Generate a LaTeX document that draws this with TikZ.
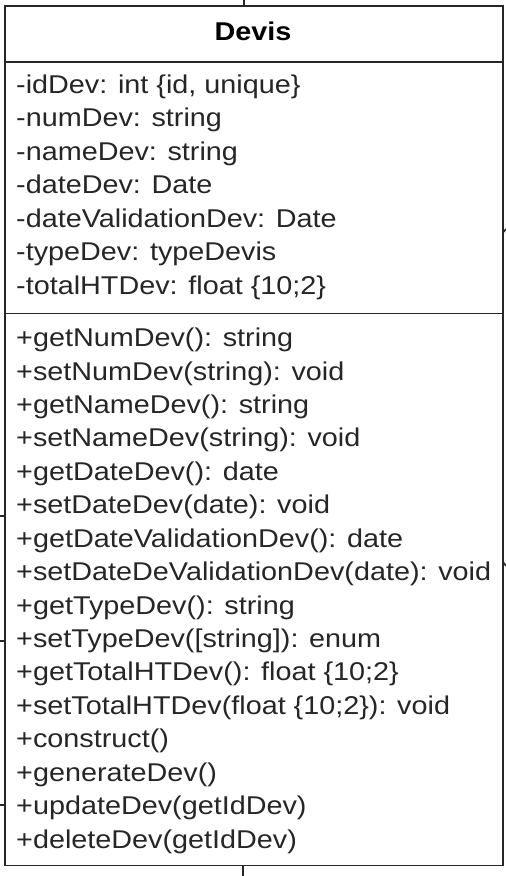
\documentclass[tikz,border=0pt]{standalone}
\usepackage{fontspec}
\setmainfont[FakeStretch=1.12]{Liberation Sans}
\begin{document}
\begin{tikzpicture}[x=1bp,y=-1bp,
  umlbox/.style={draw=black!85, line width=1.8bp, fill=white, inner sep=0pt, anchor=north west},
  member/.style={anchor=base west, inner sep=0pt, text=black!85, font=\fontsize{25.7bp}{30bp}\selectfont},
  title/.style={anchor=base, inner sep=0pt, text=black, font=\fontsize{25.7bp}{30bp}\selectfont\bfseries},
  conn/.style={draw=black!85, line width=1.6bp}]
\useasboundingbox (0,0) rectangle (506,876);
% connector stubs
\coordinate (ts1) at (244,0);   \coordinate (ts2) at (244,6);
\coordinate (bs1) at (243,863); \coordinate (bs2) at (243,876);
\coordinate (l1a) at (0,516);   \coordinate (l1b) at (5,516);
\coordinate (l2a) at (0,641);   \coordinate (l2b) at (5,641);
\coordinate (l3a) at (0,805);   \coordinate (l3b) at (5,805);
\coordinate (r1a) at (506,229); \coordinate (r1b) at (501,235);
\coordinate (r2a) at (506,566); \coordinate (r2b) at (501,559);
\draw[conn] (ts1) -- (ts2);
\draw[conn] (bs1) -- (bs2);
\draw[conn] (l1a) -- (l1b);
\draw[conn] (l2a) -- (l2b);
\draw[conn] (l3a) -- (l3b);
\draw[conn] (r1a) -- (r1b);
\draw[conn] (r2a) -- (r2b);
% class compartments
\node[umlbox, minimum width=498bp, minimum height=56bp] (head) at (4,5) {};
\node[umlbox, minimum width=498bp, minimum height=251.5bp] (attrs) at (4,61) {};
\node[umlbox, minimum width=498bp, minimum height=552bp] (meths) at (4,312.5) {};
\node[title] (name) at (253,40) {Devis};
% attributes
\foreach \t [count=\i] in {
  {-idDev: int \{id, unique\}},
  {-numDev: string},
  {-nameDev: string},
  {-dateDev: Date},
  {-dateValidationDev: Date},
  {-typeDev: typeDevis},
  {-totalHTDev: float \{10;2\}}}
  \node[member] (a\i) at (16,{93.3+(\i-1)*33.5}) {\t};
% methods
\foreach \t [count=\i] in {
  {+getNumDev(): string},
  {+setNumDev(string): void},
  {+getNameDev(): string},
  {+setNameDev(string): void},
  {+getDateDev(): date},
  {+setDateDev(date): void},
  {+getDateValidationDev(): date},
  {+setDateDeValidationDev(date): void},
  {+getTypeDev(): string},
  {+setTypeDev([string]): enum},
  {+getTotalHTDev(): float \{10;2\}},
  {+setTotalHTDev(float \{10;2\}): void},
  {+construct()},
  {+generateDev()},
  {+updateDev(getIdDev)},
  {+deleteDev(getIdDev)}}
  \node[member] (m\i) at (16,{346.7+(\i-1)*33.42}) {\t};
\end{tikzpicture}
\end{document}
